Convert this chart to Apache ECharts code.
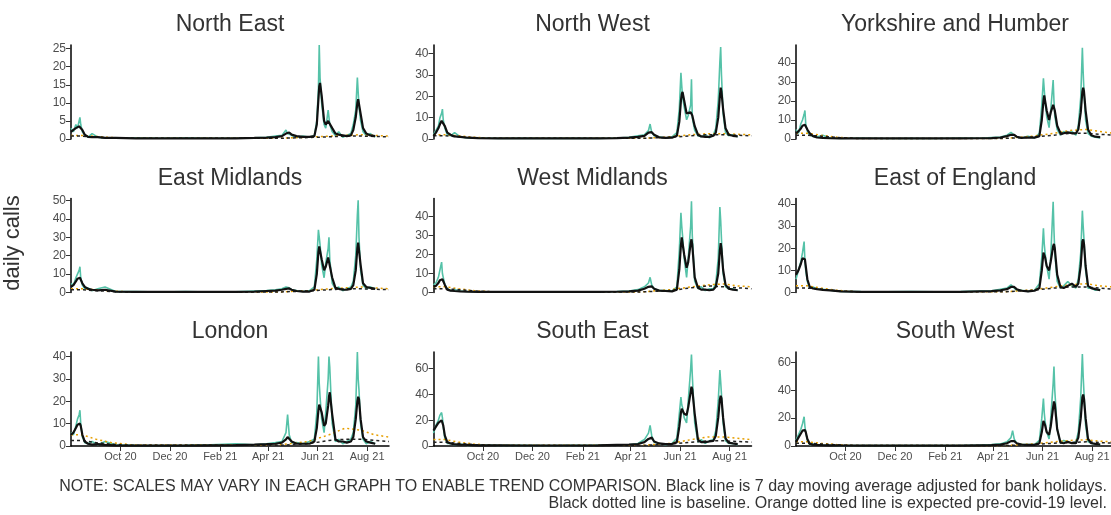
<!DOCTYPE html>
<html><head><meta charset="utf-8">
<script src="https://cdn.jsdelivr.net/npm/echarts@6/dist/echarts.min.js"></script>
<style>html,body{margin:0;padding:0;background:#fff}#c{width:1111px;height:515px}</style>
</head><body><div id="c"></div>
<script>
// ---------------- DATA ----------------
const dates = ['2020-08-01','2020-08-04','2020-08-07','2020-08-09','2020-08-11','2020-08-12','2020-08-13','2020-08-15','2020-08-18','2020-08-22',
'2020-08-27','2020-09-03','2020-09-12','2020-09-25','2020-10-20','2020-11-20','2020-12-20','2021-01-20','2021-02-20','2021-03-15',
'2021-03-30','2021-04-10','2021-04-18','2021-04-23','2021-04-25','2021-04-27','2021-04-30','2021-05-06','2021-05-14','2021-05-22',
'2021-05-28','2021-05-31','2021-06-02','2021-06-03','2021-06-04','2021-06-06','2021-06-09','2021-06-11','2021-06-14','2021-06-15',
'2021-06-16','2021-06-19','2021-06-23','2021-06-27','2021-07-02','2021-07-07','2021-07-12','2021-07-15','2021-07-18','2021-07-20',
'2021-07-21','2021-07-22','2021-07-24','2021-07-27','2021-07-31','2021-08-05','2021-08-11'];
const refDates = ['2020-08-01','2020-08-15','2020-09-01','2020-09-20','2020-10-15','2021-04-15','2021-05-20','2021-06-15','2021-07-05','2021-07-25','2021-08-10','2021-08-28'];

const regionNames = ['North East','North West','Yorkshire and Humber','East Midlands','West Midlands','East of England','London','South East','South West'];

const northEastDaily = [3,2,4,3,5,6,4,2,1,0.5,1.5,0.5,0.3,0.2,0.3,0.2,0.3,0.2,0.2,0.3,0.5,0.8,1,2.5,1.5,2,1,0.5,0.8,0.5,1,5,14,26,17,10,4,3,8,6,4,2,1,2,0.5,1,1.5,4,8,17,13,9,5,2,1,1.5,0.5];
const northEastAvg = [2,2.5,3,3.3,3.5,3.5,3.3,2.5,1.2,0.6,0.5,0.5,0.3,0.3,0.2,0.2,0.2,0.2,0.2,0.3,0.4,0.5,0.8,1.5,2,1.8,1.2,0.8,0.6,0.6,0.8,4,11,14.5,15.5,12,5,4,5,5.5,5.3,3,1.5,1.2,1,0.8,1,2.5,6,10,11,10.5,7,3,1.5,1,0.8];
const northEastBase = [0.8,0.8,0.5,0.3,0.2,0.2,0.4,0.6,0.8,0.8,0.7,0.6];
const northEastExpected = [1,1,0.7,0.4,0.2,0.2,0.5,0.8,1,1.2,1,0.8];
const northEastTicks = [0,5,10,15,20,25];

const northWestDaily = [2,4,6,10,12,14,9,5,2,1.5,3,1,0.5,0.5,0.3,0.4,0.3,0.4,0.3,0.5,0.8,1.5,2,4,7,3,1.5,1,0.5,1,3,14,31,25,20,15,9,11,16,28,10,4,1.5,1,2,0.5,2,5,18,36,43,30,12,3,1.5,2,1];
const northWestAvg = [1.5,3,5,7,8.5,9,8.5,6,3,2,1.2,1,0.6,0.4,0.3,0.3,0.3,0.3,0.3,0.4,0.6,1,1.5,3,3.5,3.2,2,0.8,0.5,0.6,1.5,8,18,21,22,18,12,12,12.5,12,11,6,2,1.2,1,1,1.5,3,10,20,24,22,14,5,2,1.5,1.2];
const northWestBase = [1.5,1.5,1,0.5,0.3,0.3,0.8,1.5,2,2,1.8,1.5];
const northWestExpected = [2,2,1.5,0.8,0.3,0.3,1,2,2.5,2.5,2.2,2];
const northWestTicks = [0,10,20,30,40];

const yorkshireDaily = [5,3,8,10,13,15,8,4,2,1.5,1,2,0.5,0.3,0.5,0.3,0.4,0.3,0.5,0.4,0.8,1,2,3.5,3,2,1,0.5,1.5,0.5,3,18,32,26,20,12,6,15,31,20,12,5,2,4,3,4,2,7,22,48,35,25,10,3,1.5,1,0.5];
const yorkshireAvg = [3,4,5.5,7,7.5,7.5,7,5,3,1.5,0.8,0.6,0.4,0.3,0.3,0.3,0.3,0.3,0.3,0.4,0.5,0.8,1.5,2.2,2.5,2.2,1.2,0.6,0.8,0.7,1.5,10,20,23,22,15,10,14,18,17.5,15,7,3,3,3.5,3,3,5,14,25,27,25,15,5,2,1.2,1];
const yorkshireBase = [2,2,1.5,0.8,0.3,0.3,1,2,3,3,2.5,2];
const yorkshireExpected = [3,3,2,1,0.3,0.3,1.5,3,4.5,5,4,3];
const yorkshireTicks = [0,10,20,30,40];

const eastMidlandsDaily = [5,4,8,10,12,14,8,4,2,2.5,1,2,3,0.5,0.5,0.3,0.5,0.3,0.4,0.8,1,1.5,2,3,4,2.5,1.5,1,0.5,1,3,18,34,30,26,15,8,16,24,30,18,5,2,3,1,2,3,6,20,42,50,30,12,4,2,3,2];
const eastMidlandsAvg = [3,4,6,7.5,8,8,7.5,5,3,2,1.5,1.2,1.5,0.5,0.3,0.3,0.3,0.3,0.3,0.5,0.8,1,1.5,2,2.5,2.2,1.5,0.8,0.5,0.5,1.5,10,22,25,24,18,12,14,19,20,19,8,2.5,2,1.5,1.5,2,4,12,24,27,26,15,5,3,2.5,2];
const eastMidlandsBase = [1.5,1.5,1,0.5,0.3,0.3,0.8,1.5,2,2,1.8,1.5];
const eastMidlandsExpected = [2,2,1.5,0.8,0.3,0.3,1,2,2.5,3,2.5,2];
const eastMidlandsTicks = [0,10,20,30,40,50];

const westMidlandsDaily = [4,5,8,12,16,10,8,4,2,1,1.5,0.8,0.5,0.4,0.3,0.4,0.3,0.3,0.4,0.5,0.8,1.5,3,5,8,4,2,1,1,0.8,3,22,42,35,30,18,8,18,35,48,30,6,2,3,1,2,2,5,18,45,38,28,10,3,2,2,1];
const westMidlandsAvg = [3,3.5,5,6.5,7,7,6.5,4,1.5,1,0.8,0.6,0.4,0.3,0.3,0.3,0.3,0.3,0.3,0.4,0.6,1,2,3,3.5,3.2,2,1,0.8,0.6,1.5,12,25,29,28,20,13,16,26,28,25,8,2.5,1.5,1.5,1.2,1.5,3,10,22,26,23,12,4,2,1.5,1.2];
const westMidlandsBase = [2,2,1.5,0.8,0.3,0.3,1,2.5,3.5,3,2.5,2];
const westMidlandsExpected = [3,3,2,1,0.3,0.3,1.5,3,4,4.5,3.5,3];
const westMidlandsTicks = [0,10,20,30,40];

const eastEnglandDaily = [6,10,14,18,23,14,10,5,2,2.5,1.5,1.5,1,0.5,0.4,0.3,0.4,0.3,0.4,0.6,0.8,1.5,2,3.5,3,2,1,1,0.5,1,4,16,29,22,18,12,6,16,41,28,18,5,2,3,5,3,2,6,18,37,30,24,10,2,2,1,1.5];
const eastEnglandAvg = [8,10,13,15.5,16,15,12,6,2.5,1.8,1.5,1.2,1,0.5,0.3,0.3,0.3,0.3,0.3,0.5,0.6,1,1.5,2.5,3,2.5,1.5,0.8,0.5,0.8,2,10,18,18,16,12,10,14,21,22,20,8,2.5,2,3,4,2.5,4,12,23,24,22,12,3,2,1.5,1];
const eastEnglandBase = [2,2,1.5,0.8,0.3,0.3,1,2,2.5,2.5,2,1.5];
const eastEnglandExpected = [3,3,2,1,0.3,0.3,1.2,2.5,3.5,4,3,2.5];
const eastEnglandTicks = [0,10,20,30,40];

const londonDaily = [6,5,9,12,14,16,10,4,1.5,1,2,0.5,2,0.5,0.3,0.2,0.3,0.5,1,0.5,1,1.5,2,6,14,5,1.5,1.5,1,2,3,15,40,28,22,12,6,15,30,40,35,10,2,3,1,2,3,6,18,42,30,25,10,3,1,2,1];
const londonAvg = [5,6,8,9.5,10,10,9,5,2,1,0.6,0.8,0.5,0.3,0.2,0.2,0.2,0.3,0.4,0.6,0.8,1,1.5,3,4,3.5,2,1,1,1,2,8,16,18.5,19,15,9,10,18,22,24,14,3,2,2,1.5,2,4,12,20,22,21,12,4,2,1.5,1];
const londonBase = [2.5,2.5,1.5,0.8,0.3,0.3,1,2.5,3,3,2.5,2];
const londonExpected = [5,5,3,1.5,0.5,0.5,2,5,8,7,5,4];
const londonTicks = [0,10,20,30,40];

const southEastDaily = [10,16,20,24,26,22,15,6,2,2,1,1.5,0.5,0.8,0.5,0.5,0.4,0.5,0.6,1,1,2,5,10,16,8,3,2,1,2,6,25,38,32,30,22,18,35,60,71,55,18,3,5,2,4,5,12,35,59,50,40,18,4,2,2,1];
const southEastAvg = [12,15,18,19.5,20,19,16,8,3,2,1.2,1,0.8,0.5,0.5,0.4,0.4,0.4,0.5,0.8,1,1.5,3,5.5,7,6.5,3.5,2,1.5,1.5,3,15,26,29,28.5,25,24,30,42,46,44,25,5,3,3,3.5,4,8,22,36,39,37,22,6,2.5,2,1.5];
const southEastBase = [3,3,2,1,0.4,0.4,1.5,3,4,4,3.5,3];
const southEastExpected = [5,5,3,1.5,0.5,0.5,2,5,7,7,6,5];
const southEastTicks = [0,20,40,60];

const southWestDaily = [4,8,12,16,21,14,10,4,1,1.5,0.8,0.5,0.5,0.4,0.3,0.3,0.4,0.3,0.4,0.6,1,1.5,3,6,11,5,2,1,1,1,4,20,34,24,18,10,5,20,45,57,40,12,2,4,3,2,3,10,35,66,50,38,15,3,2,1.5,1];
const southWestAvg = [3,6,9,11,12,11.5,10,5,1.5,1,0.8,0.6,0.5,0.4,0.3,0.3,0.3,0.3,0.3,0.5,0.6,1,2,3.5,4,3.5,2,1,0.8,0.8,2,10,18,17.5,15,10,8,14,28,32,30,12,2.5,2,3,2,2,6,20,35,37,34,20,5,2,1.5,1];
const southWestBase = [2,2,1.5,0.8,0.3,0.3,1,2,2.5,3,2.5,2];
const southWestExpected = [3,3,2,1,0.3,0.3,1.5,3,4,4.5,3.5,3];
const southWestTicks = [0,20,40,60];

const yMax = [26, 44, 49.5, 51, 49.5, 42.5, 42, 73, 67.5];
const xStart = '2020-08-01', xEnd = '2021-08-28';
const xTicks = ['2020-10-01','2020-12-01','2021-02-01','2021-04-01','2021-06-01','2021-08-01'];
const monthNames = ['Jan','Feb','Mar','Apr','May','Jun','Jul','Aug','Sep','Oct','Nov','Dec'];

const panels = [
  [northEastDaily, northEastAvg, northEastBase, northEastExpected, northEastTicks],
  [northWestDaily, northWestAvg, northWestBase, northWestExpected, northWestTicks],
  [yorkshireDaily, yorkshireAvg, yorkshireBase, yorkshireExpected, yorkshireTicks],
  [eastMidlandsDaily, eastMidlandsAvg, eastMidlandsBase, eastMidlandsExpected, eastMidlandsTicks],
  [westMidlandsDaily, westMidlandsAvg, westMidlandsBase, westMidlandsExpected, westMidlandsTicks],
  [eastEnglandDaily, eastEnglandAvg, eastEnglandBase, eastEnglandExpected, eastEnglandTicks],
  [londonDaily, londonAvg, londonBase, londonExpected, londonTicks],
  [southEastDaily, southEastAvg, southEastBase, southEastExpected, southEastTicks],
  [southWestDaily, southWestAvg, southWestBase, southWestExpected, southWestTicks]
];

// ---------------- LAYOUT ----------------
const colLeft = [71, 433.5, 796];
const rowTop = [45, 198.5, 352];
const W = 318, H = 94;
const FONT = '"Liberation Sans", Arial, sans-serif';

const t = d => Date.parse(d + 'T00:00:00Z');
const zip = (xs, ys) => xs.map((d, i) => [t(d), ys[i]]);
const tickTimes = xTicks.map(t);
const fmtDate = v => { const d = new Date(v); return monthNames[d.getUTCMonth()] + ' ' + String(d.getUTCFullYear()).slice(2); };

const grid = [], xAxis = [], yAxis = [], series = [], graphic = [];
panels.forEach((p, i) => {
  const r = Math.floor(i / 3), c = i % 3;
  grid.push({left: colLeft[c], top: rowTop[r], width: W, height: H, containLabel: false, outerBoundsMode: 'none'});
  const bottom = r === 2;
  xAxis.push({
    type: 'value', gridIndex: i, min: t(xStart), max: t(xEnd), scale: true,
    axisLine: {show: bottom, onZero: false, lineStyle: {color: '#000', width: 1.5}},
    axisTick: {show: bottom, length: 5, customValues: tickTimes, lineStyle: {color: '#333', width: 1}},
    axisLabel: {show: bottom, customValues: tickTimes, color: '#4d4d4d', fontSize: 11, fontFamily: FONT, margin: 5, formatter: fmtDate},
    splitLine: {show: false}
  });
  yAxis.push({
    type: 'value', gridIndex: i, min: 0, max: yMax[i],
    axisLine: {show: true, lineStyle: {color: '#000', width: 1.5}},
    axisTick: {show: true, length: 5, customValues: p[4], lineStyle: {color: '#333', width: 1}},
    axisLabel: {customValues: p[4], color: '#4d4d4d', fontSize: 12, fontFamily: FONT, margin: 5},
    splitLine: {show: false}
  });
  const common = {xAxisIndex: i, yAxisIndex: i, type: 'line', showSymbol: false, symbol: 'none', silent: true, animation: false};
  series.push(Object.assign({}, common, {data: zip(dates, p[0]), lineStyle: {color: '#55c2a8', width: 1.6}, z: 1}));
  series.push(Object.assign({}, common, {data: zip(refDates, p[3]), lineStyle: {color: '#e69f00', width: 1.5, type: [2, 3]}, z: 2}));
  series.push(Object.assign({}, common, {data: zip(refDates, p[2]), lineStyle: {color: '#222', width: 1.5, type: [3, 3]}, z: 3}));
  series.push(Object.assign({}, common, {data: zip(dates, p[1]), lineStyle: {color: '#111', width: 2.2}, z: 4}));
  graphic.push({type: 'text', x: colLeft[c] + W / 2, y: rowTop[r] - 20, style: {text: regionNames[i], font: '23px ' + FONT, fill: '#333', textAlign: 'center', textVerticalAlign: 'middle'}});
});

graphic.push({type: 'text', x: 13, y: 243, rotation: Math.PI / 2, style: {text: 'daily calls', font: '22px ' + FONT, fill: '#333', textAlign: 'center', textVerticalAlign: 'middle'}});
graphic.push({type: 'text', x: 1107, y: 487, style: {text: 'NOTE: SCALES MAY VARY IN EACH GRAPH TO ENABLE TREND COMPARISON. Black line is 7 day moving average adjusted for bank holidays.', font: '16px ' + FONT, fill: '#333', textAlign: 'right', textVerticalAlign: 'middle'}});
graphic.push({type: 'text', x: 1107, y: 504, style: {text: 'Black dotted line is baseline. Orange dotted line is expected pre-covid-19 level.', font: '16px ' + FONT, fill: '#333', textAlign: 'right', textVerticalAlign: 'middle'}});

const chart = echarts.init(document.getElementById('c'), null, {renderer: 'canvas'});
chart.setOption({animation: false, backgroundColor: '#fff', grid, xAxis, yAxis, series, graphic});
</script></body></html>
